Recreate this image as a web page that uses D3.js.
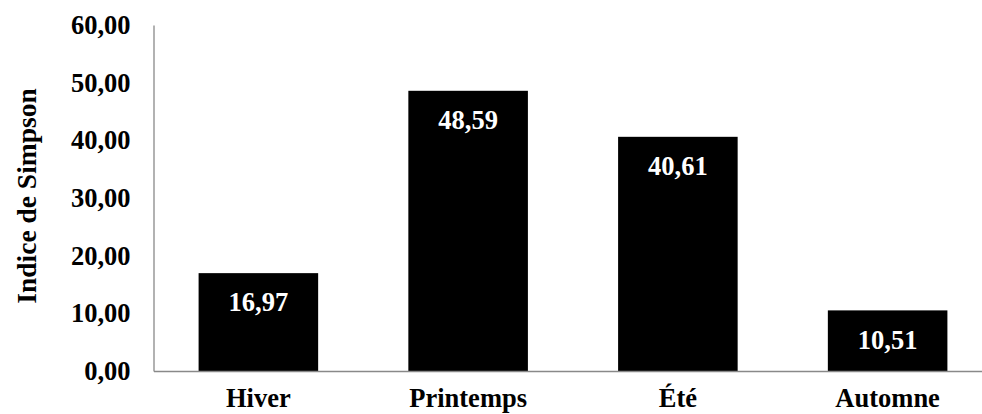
<!DOCTYPE html>
<html>
<head>
<meta charset="utf-8">
<script src="https://cdn.jsdelivr.net/npm/d3@7"></script>
<style>
  html, body { margin: 0; padding: 0; background: #fff; }
  svg { display: block; }
  text { font-family: "Liberation Serif", "Times New Roman", serif; font-weight: bold; }
</style>
</head>
<body>
<svg id="chart" width="982" height="414"></svg>
<script>
const categories = ["Hiver", "Printemps", "Été", "Automne"];
const values = [16.97, 48.59, 40.61, 10.51];
const yTicks = [0, 10, 20, 30, 40, 50, 60];
const yTitle = "Indice de Simpson";

const fmt = v => v.toFixed(2).replace(".", ",");

const svg = d3.select("#chart");
const mLeft = 153.5, mRight = 992.5, mTop = 25, mBottom = 371;
const fs = 26.5;

const x = d3.scaleBand().domain(categories).range([mLeft, mRight]).paddingInner(0.43).paddingOuter(0.215);
const y = d3.scaleLinear().domain([0, 60]).range([mBottom, mTop]);

// bars
svg.append("g").selectAll("rect").data(values).join("rect")
  .attr("x", (d, i) => x(categories[i]))
  .attr("y", d => y(d))
  .attr("width", x.bandwidth())
  .attr("height", d => y(0) - y(d))
  .attr("fill", "#000");

// y axis
const yAxis = svg.append("g").attr("transform", `translate(${mLeft},0)`)
  .call(d3.axisLeft(y).tickValues(yTicks).tickFormat(fmt).tickSize(0).tickPadding(23));
yAxis.select(".domain").attr("stroke", "#898989").attr("stroke-width", 1.3);
yAxis.selectAll("text").attr("font-size", fs).attr("fill", "#000")
  .attr("font-family", "'Liberation Serif', 'Times New Roman', serif").attr("font-weight", "bold");

// x axis
const xAxis = svg.append("g").attr("transform", `translate(0,${mBottom})`)
  .call(d3.axisBottom(x).tickSize(0).tickPadding(17));
xAxis.select(".domain").attr("stroke", "#898989").attr("stroke-width", 1.3);
xAxis.selectAll("text").attr("font-size", fs).attr("fill", "#000")
  .attr("font-family", "'Liberation Serif', 'Times New Roman', serif").attr("font-weight", "bold");

// value labels
svg.append("g").selectAll("text").data(values).join("text")
  .attr("x", (d, i) => x(categories[i]) + x.bandwidth() / 2)
  .attr("y", d => y(d) + 29)
  .attr("dy", "0.35em")
  .attr("text-anchor", "middle")
  .attr("font-size", fs)
  .attr("fill", "#fff")
  .text(d => fmt(d));

// y title
svg.append("text")
  .attr("transform", "translate(36,196) rotate(-90)")
  .attr("text-anchor", "middle")
  .attr("font-size", 27.5)
  .attr("fill", "#000")
  .text(yTitle);
</script>
</body>
</html>
